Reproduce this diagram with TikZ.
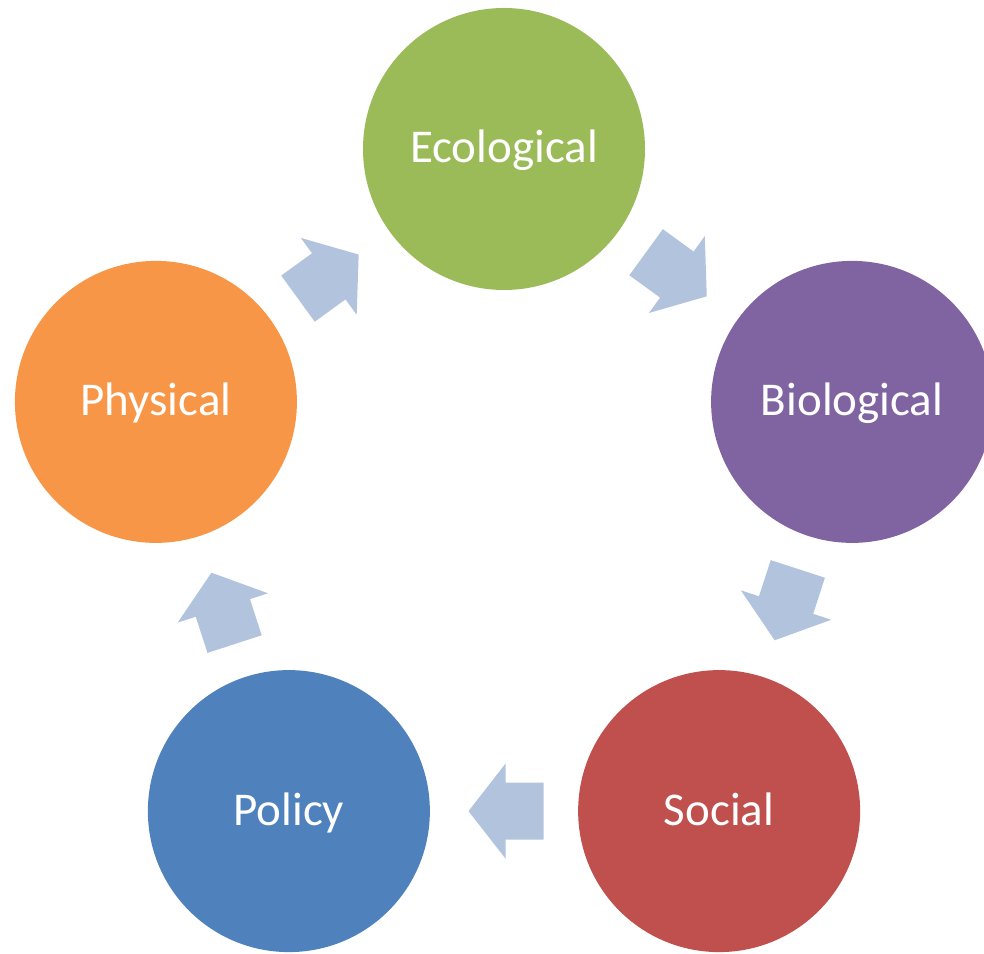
\documentclass[tikz,border=0pt]{standalone}
\usepackage{fontspec}
\setmainfont{Carlito}
\usetikzlibrary{calc}
\definecolor{ecoc}{HTML}{9BBB59}
\definecolor{bioc}{HTML}{8064A2}
\definecolor{socc}{HTML}{C0504D}
\definecolor{polc}{HTML}{4F81BD}
\definecolor{phyc}{HTML}{F79646}
\definecolor{arrowc}{RGB}{178,195,222}
\begin{document}
\begin{tikzpicture}[x=1pt,y=1pt,
  stage/.style={circle, minimum size=282pt, inner sep=0pt, draw=none, text=white,
    font=\fontsize{47}{56}\selectfont, text height=28pt, text depth=0pt},
  cyclearrow/.style={fill=arrowc, draw=none}]
\useasboundingbox (0,0) rectangle (984,953);
\clip (0,0) rectangle (984,953);
\coordinate (ctr) at (504,438);
\node[stage, fill=ecoc] (eco) at ($(ctr)+(90:366)$) {Ecological};
\node[stage, fill=bioc] (bio) at ($(ctr)+(18:366)$) {Biological};
\node[stage, fill=socc] (soc) at ($(ctr)+(-54:366)$) {Social};
\node[stage, fill=polc] (pol) at ($(ctr)+(-126:366)$) {Policy};
\node[stage, fill=phyc] (phy) at ($(ctr)+(162:366)$) {Physical};
\foreach \a/\b/\dir in {eco/bio/-36, bio/soc/-108, soc/pol/180, pol/phy/108, phy/eco/36}{
  \begin{scope}[shift={($(\a)!0.5!(\b)$)}, rotate=\dir]
    \fill[cyclearrow] (-39.5,28.5) -- (-1.5,28.5) -- (-1.5,47.5) -- (35.5,0)
      -- (-1.5,-47.5) -- (-1.5,-28.5) -- (-39.5,-28.5) -- cycle;
  \end{scope}
}
\end{tikzpicture}
\end{document}
